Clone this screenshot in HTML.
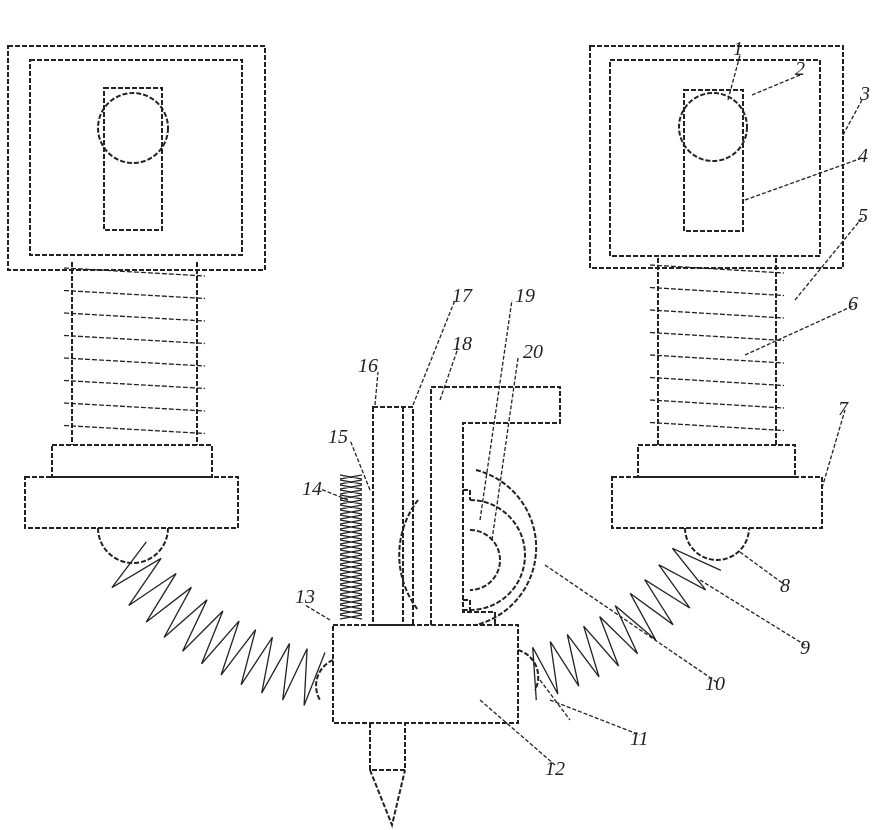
<!DOCTYPE html>
<html><head><meta charset="utf-8"><style>
body{margin:0;background:#fff}
svg{display:block}
text{font-family:"Liberation Serif",serif;font-size:20px;font-style:italic;fill:#222}
.d{fill:none;stroke:#222;stroke-width:2;stroke-dasharray:5 2}
.t{fill:none;stroke:#222;stroke-width:1.3}
</style></head><body>
<svg id="s" width="890" height="830" viewBox="0 0 890 830">
<g class="d">
<!-- left unit -->
<rect x="8" y="46" width="257" height="224"/>
<rect x="30" y="60" width="212" height="195"/>
<rect x="104" y="88" width="58" height="142"/>
<circle cx="133" cy="128" r="35"/>
<line x1="72" y1="262" x2="72" y2="445"/><line x1="197" y1="262" x2="197" y2="445"/>
<rect x="52" y="445" width="160" height="32"/>
<rect x="25" y="477" width="213" height="51"/>
<path d="M98 528 A35 35 0 0 0 168 528"/>
<!-- right unit -->
<rect x="590" y="46" width="253" height="222"/>
<rect x="610" y="60" width="210" height="196"/>
<rect x="684" y="90" width="59" height="141"/>
<circle cx="713" cy="127" r="34"/>
<line x1="658" y1="258" x2="658" y2="445"/><line x1="776" y1="258" x2="776" y2="445"/>
<rect x="638" y="445" width="157" height="32"/>
<rect x="612" y="477" width="210" height="51"/>
<path d="M685 528 A32 32 0 0 0 749 528"/>
<!-- center -->
<rect x="333" y="625" width="185" height="98"/>
<path d="M370 723 L370 770 L405 770 L405 723 M370 770 L392 825 L405 770"/>
<rect x="373" y="407" width="40" height="218"/>
<line x1="403" y1="407" x2="403" y2="625"/>
<path d="M431 625 L431 387 L560 387 L560 423 L463 423 L463 612 L495 612 L495 625"/>
<path d="M476 470 A80 80 0 0 1 476 625"/>
<path d="M470 500 A55 55 0 0 1 470 610 L463 610"/>
<path d="M470 530 A22 22 0 0 1 470 590"/>
<path d="M463 490 L470 490 L470 500 M463 600 L470 600 L470 612"/>
<path d="M418 500 A90 90 0 0 0 418 610"/>
<path d="M333 660 A28 28 0 0 0 320 700 M518 650 A28 28 0 0 1 535 690"/>
</g>
<g id="sp" class="t"></g>
<g class="t" stroke-dasharray="4 2">
<line x1="728" y1="100" x2="740" y2="55"/>
<line x1="752" y1="95" x2="800" y2="75"/>
<line x1="843" y1="135" x2="862" y2="100"/>
<line x1="745" y1="200" x2="862" y2="158"/>
<line x1="795" y1="300" x2="862" y2="218"/>
<line x1="745" y1="355" x2="855" y2="305"/>
<line x1="822" y1="488" x2="845" y2="410"/>
<line x1="740" y1="552" x2="785" y2="585"/>
<line x1="700" y1="580" x2="805" y2="645"/>
<line x1="545" y1="565" x2="718" y2="683"/>
<line x1="550" y1="700" x2="640" y2="735"/><line x1="540" y1="680" x2="570" y2="720"/>
<line x1="480" y1="700" x2="555" y2="765"/>
<line x1="330" y1="620" x2="305" y2="605"/>
<line x1="348" y1="500" x2="318" y2="488"/>
<line x1="370" y1="490" x2="350" y2="440"/>
<line x1="375" y1="405" x2="378" y2="372"/>
<line x1="413" y1="405" x2="455" y2="300"/>
<line x1="440" y1="400" x2="458" y2="348"/>
<line x1="480" y1="520" x2="512" y2="300"/>
<line x1="492" y1="540" x2="518" y2="358"/>
</g>
<g>
<text x="733" y="55">1</text><text x="795" y="75">2</text><text x="860" y="100">3</text>
<text x="858" y="162">4</text><text x="858" y="222">5</text><text x="848" y="310">6</text>
<text x="838" y="415">7</text><text x="780" y="592">8</text><text x="800" y="654">9</text>
<text x="705" y="690">10</text><text x="630" y="745">11</text><text x="545" y="775">12</text>
<text x="295" y="603">13</text><text x="302" y="495">14</text><text x="328" y="443">15</text>
<text x="358" y="372">16</text><text x="452" y="302">17</text><text x="452" y="350">18</text>
<text x="515" y="302">19</text><text x="523" y="358">20</text>
</g>
</svg>
<script>
var g=document.getElementById('sp'),ns='http://www.w3.org/2000/svg';
function pl(d,dash){var p=document.createElementNS(ns,'path');p.setAttribute('d',d);if(dash)p.setAttribute('stroke-dasharray',dash);g.appendChild(p);}
// coil springs
function coil(x1,x2,y0,n,h){for(var i=0;i<n;i++){var y=y0+i*h;pl('M'+(x1-8)+' '+y+' L'+(x2+8)+' '+(y+8),'5 2');}}
coil(72,197,268,8,22.5);coil(658,776,265,8,22.5);
// zigzag along bezier
function zig(P0,P1,P2,n,a){var d='';for(var i=0;i<=n;i++){var t=i/n,u=1-t;
var x=u*u*P0[0]+2*u*t*P1[0]+t*t*P2[0],y=u*u*P0[1]+2*u*t*P1[1]+t*t*P2[1];
var dx=2*u*(P1[0]-P0[0])+2*t*(P2[0]-P1[0]),dy=2*u*(P1[1]-P0[1])+2*t*(P2[1]-P1[1]);var L=Math.hypot(dx,dy);
var s=(i%2?1:-1)*a;d+=(i?'L':'M')+(x-dy/L*s).toFixed(1)+' '+(y+dx/L*s).toFixed(1);}pl(d);}
zig([125,560],[210,660],[320,680],22,28);
zig([700,555],[630,650],[530,675],20,26);
// spring 14 hatch
var d='';for(var y=475;y<620;y+=5){d+='M340 '+y+' L362 '+(y+4)+' M340 '+(y+4)+' L362 '+y;}pl(d);
</script>
</body></html>
